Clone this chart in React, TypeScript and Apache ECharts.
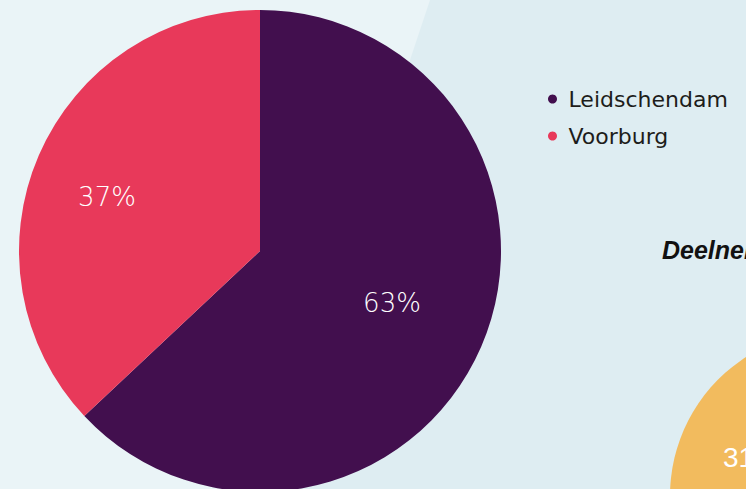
import React, { useEffect, useRef } from "react";
import * as echarts from "echarts";

// Main pie: share per location
const categories = ["Leidschendam", "Voorburg"];
const shares = [63, 37];
const sliceColors = ["#420f4e", "#e8395a"];

// Partially visible neighbouring chart (only one slice shows)
const sideValues = [69, 31];
const sideColors = ["#dfe9ee", "#f2bb5e"];

const sideTitle = "Deelnemers";

export default function App() {
  const ref = useRef<HTMLDivElement>(null);

  useEffect(() => {
    document.body.style.margin = "0";
    if (!ref.current) return;
    const chart = echarts.init(ref.current, undefined, { renderer: "svg" });

    const labelPos: Record<string, [number, number]> = {
      "0-0": [392, 303],
      "0-1": [107, 197],
      "1-1": [751, 457],
    };

    chart.setOption({
      animation: false,
      backgroundColor: "#eaf4f7",
      graphic: {
        elements: [
          {
            type: "polygon",
            z: -10,
            silent: true,
            shape: { points: [[430, 0], [746, 0], [746, 489], [267, 489]] },
            style: { fill: "#deedf2" },
          },
          {
            type: "text",
            x: 662,
            y: 250,
            style: {
              text: sideTitle,
              fill: "#111111",
              font: "italic bold 25px 'Liberation Sans', Arial, sans-serif",
              verticalAlign: "middle",
            },
          },
        ],
      },
      legend: {
        data: categories,
        orient: "vertical",
        left: 543,
        top: 82,
        icon: "circle",
        itemWidth: 22,
        itemHeight: 9,
        itemGap: 13,
        textStyle: {
          fontFamily: "'DejaVu Sans', sans-serif",
          fontSize: 22,
          lineHeight: 24,
          color: "#1d1d1b",
        },
      },
      series: [
        {
          type: "pie",
          center: [260, 251],
          radius: 241,
          startAngle: 90,
          clockwise: true,
          silent: true,
          data: categories.map((name, i) => ({
            name,
            value: shares[i],
            itemStyle: { color: sliceColors[i] },
          })),
          label: {
            show: true,
            position: "inside",
            formatter: "{c}%",
            color: "#ffffff",
            fontFamily: "'DejaVu Sans', sans-serif",
            fontSize: 26,
            fontWeight: 300,
          },
          labelLine: { show: false },
          labelLayout: (p: any) => {
            const pos = labelPos[`0-${p.dataIndex}`];
            return pos ? { x: pos[0], y: pos[1], align: "center", verticalAlign: "middle" } : {};
          },
        },
        {
          type: "pie",
          center: [835, 496],
          radius: 165,
          startAngle: 90,
          clockwise: true,
          silent: true,
          data: sideValues.map((v, i) => ({
            name: `side-${i}`,
            value: v,
            itemStyle: { color: sideColors[i] },
            label: { show: i === 1 },
          })),
          label: {
            show: true,
            position: "inside",
            formatter: "{c}%",
            color: "#ffffff",
            fontFamily: "'Liberation Sans', Arial, sans-serif",
            fontSize: 28,
          },
          labelLine: { show: false },
          labelLayout: (p: any) => {
            const pos = labelPos[`1-${p.dataIndex}`];
            return pos ? { x: pos[0], y: pos[1], align: "center", verticalAlign: "middle" } : {};
          },
        },
      ],
    });

    return () => chart.dispose();
  }, []);

  return <div ref={ref} style={{ width: 746, height: 489 }} />;
}
